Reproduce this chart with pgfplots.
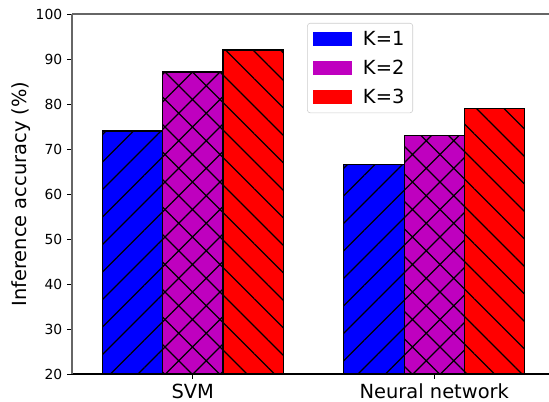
\documentclass[border=0pt]{standalone}
\usepackage{fontspec}
\setmainfont{DejaVu Sans}
\usepackage{pgfplots}
\pgfplotsset{compat=1.18}
\usetikzlibrary{patterns.meta,calc}
\definecolor{mplmag}{rgb}{0.75,0,0.75}
\definecolor{spinegray}{gray}{0.4}
\begin{document}
\begin{tikzpicture}
\begin{axis}[
  name=ax,
  scale only axis,
  width=343.44pt, height=259.2pt,
  xmin=-0.5, xmax=1.475, ymin=20, ymax=100,
  axis x line*=bottom, axis y line*=left,
  x axis line style={black, line width=0.8pt, -},
  y axis line style={spinegray, line width=0.8pt, -},
  xtick={0,1}, xticklabels={SVM, Neural network},
  ytick={20,30,...,100},
  tick align=outside, major tick length=3.5pt,
  tick style={black, line width=0.6pt},
  x tick label style={font=\fontsize{14}{16}\selectfont},
  y tick label style={font=\fontsize{10}{12}\selectfont},
  /pgf/number format/assume math mode=true,
  ylabel={Inference accuracy (\%)},
  ylabel shift=-3pt,
  ylabel style={font=\fontsize{14}{16}\selectfont},
  legend image code/.code={\path[#1, draw=none, sharp corners] (0pt,-4.9pt) rectangle (28pt,4.9pt);},
  legend cell align=left,
  legend style={at={(0.493,0.975)}, anchor=north west, draw=black!20, rounded corners=2pt,
    font=\fontsize{14}{16}\selectfont, inner xsep=4pt, inner ysep=3.5pt, row sep=5pt,
    /tikz/every odd column/.append style={column sep=6pt}},
  clip=true,
]
\addplot[ybar, bar width=0.25, bar shift=0pt, fill=blue, draw=black, line width=0.8pt,
  postaction={pattern={Lines[angle=45,distance=14pt,line width=0.8pt]}, pattern color=black}, forget plot]
  coordinates {(-0.25,74.0) (0.75,66.6)};
\addplot[ybar, bar width=0.25, bar shift=0pt, fill=mplmag, draw=black, line width=0.8pt,
  postaction={pattern={Hatch[angle=45,distance=14pt,line width=0.8pt]}, pattern color=black}, forget plot]
  coordinates {(0,87.1) (1,72.9)};
\addplot[ybar, bar width=0.25, bar shift=0pt, fill=red, draw=black, line width=0.8pt,
  postaction={pattern={Lines[angle=-45,distance=14pt,line width=0.8pt]}, pattern color=black}, forget plot]
  coordinates {(0.25,92.0) (1.25,78.9)};
\draw[spinegray, line width=0.8pt] (rel axis cs:0,1) -- (rel axis cs:1,1);
\addlegendimage{fill=blue}\addlegendentry{K=1}
\addlegendimage{fill=mplmag}\addlegendentry{K=2}
\addlegendimage{fill=red}\addlegendentry{K=3}
\end{axis}
\pgfresetboundingbox
\path[use as bounding box] ($(ax.south west)+(-51.84pt,-20.16pt)$) rectangle ($(ax.north east)+(0pt,10.08pt)$);
\end{tikzpicture}
\end{document}
